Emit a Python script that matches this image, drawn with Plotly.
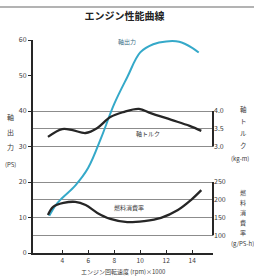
import plotly.graph_objects as go

# ---- data ----
rpm_power = [3.0, 3.5, 4.0, 5.0, 6.0, 7.0, 8.0, 9.0, 10.0, 11.0, 12.0, 13.0, 14.0, 14.5]
power_ps = [10.5, 13.5, 15.5, 19.0, 24.0, 32.5, 42.0, 49.5, 56.5, 58.8, 59.6, 59.5, 57.8, 56.5]

rpm_torque = [2.9, 4.0, 4.8, 5.8, 6.7, 7.7, 8.7, 9.9, 10.8, 12.4, 13.8, 14.7]
torque_kgm = [3.27, 3.49, 3.46, 3.38, 3.52, 3.83, 3.97, 4.06, 3.94, 3.75, 3.58, 3.44]

rpm_fuel = [2.9, 3.3, 4.1, 5.0, 5.8, 6.7, 7.7, 9.0, 10.3, 11.6, 12.9, 13.9, 14.7]
fuel_gpsh = [157, 180, 191, 194, 185, 163, 146, 137, 140, 149, 171, 199, 227]

x_ticks = [4, 6, 8, 10, 12, 14]
ps_ticks = [0, 10, 20, 30, 40, 50, 60]
torque_ticks = [3.0, 3.5, 4.0]
fuel_ticks = [100, 150, 200, 250]

FONT = "Noto Sans CJK JP"
TXT = "#3a3a3a"
DARK = "#262626"
CYAN = "#35a9c9"
GRID = "#8c8c8c"

fig = go.Figure()
fig.add_trace(go.Scatter(x=rpm_power, y=power_ps, mode="lines", line=dict(color=CYAN, width=2, shape="spline"),
                         yaxis="y", showlegend=False, hoverinfo="skip"))
fig.add_trace(go.Scatter(x=rpm_torque, y=torque_kgm, mode="lines", line=dict(color=DARK, width=2.3, shape="spline"),
                         yaxis="y2", showlegend=False, hoverinfo="skip"))
fig.add_trace(go.Scatter(x=rpm_fuel, y=fuel_gpsh, mode="lines", line=dict(color=DARK, width=2.3, shape="spline"),
                         yaxis="y3", showlegend=False, hoverinfo="skip"))

fig.update_layout(
    width=254, height=277,
    margin=dict(l=33, r=41, t=40, b=24),
    paper_bgcolor="white", plot_bgcolor="white",
    font=dict(family=FONT, color=TXT, size=7),
    title=dict(text="<b>エンジン性能曲線</b>", x=0.49, xanchor="center", y=0.94, yanchor="middle",
               font=dict(family=FONT, size=10, color="#222")),
    xaxis=dict(range=[1.75, 15.6], tickvals=x_ticks, ticktext=[str(v) for v in x_ticks],
               showgrid=False, zeroline=False, showline=True, linecolor=DARK, linewidth=2,
               ticks="inside", ticklen=3, tickcolor=DARK, tickfont=dict(size=6.5, color=TXT)),
    yaxis=dict(range=[0, 60], tickvals=ps_ticks, ticktext=[str(v) for v in ps_ticks],
               showgrid=False, zeroline=False, showline=True, linecolor=DARK, linewidth=2,
               ticks="outside", ticklen=3, tickcolor=DARK, tickfont=dict(size=7, color=TXT)),
    yaxis2=dict(range=[0, 6], overlaying="y", side="right", tickvals=torque_ticks,
                ticktext=["%.1f" % v for v in torque_ticks], showgrid=True, gridcolor=GRID, gridwidth=1,
                zeroline=False, showline=False, ticks="", tickfont=dict(size=7, color=TXT)),
    yaxis3=dict(range=[50, 650], overlaying="y", side="right", tickvals=fuel_ticks,
                ticktext=[str(v) for v in fuel_ticks], showgrid=True, gridcolor=GRID, gridwidth=1,
                zeroline=False, showline=False, ticks="", tickfont=dict(size=7, color=TXT)),
)

shapes = [
    dict(type="line", xref="paper", x0=1, x1=1, yref="y2", y0=min(torque_ticks), y1=max(torque_ticks),
         line=dict(color=DARK, width=2)),
    dict(type="line", xref="paper", x0=1, x1=1, yref="y3", y0=min(fuel_ticks), y1=max(fuel_ticks),
         line=dict(color=DARK, width=2)),
    dict(type="line", xref="paper", yref="paper", x0=-0.2, x1=1.25, y0=1.155, y1=1.155,
         line=dict(color="#9a9a9a", width=1.5)),
]
fig.update_layout(shapes=shapes)

ann = []
def a(text, x, y, xref="paper", yref="paper", size=6, color=TXT, xanchor="center", yanchor="middle"):
    ann.append(dict(text=text, x=x, y=y, xref=xref, yref=yref, showarrow=False,
                    font=dict(family=FONT, size=size, color=color), xanchor=xanchor, yanchor=yanchor))

# curve labels
a("軸出力", 9.0, 59.5, xref="x", yref="y", size=6, color="#3c6f86")
a("軸トルク", 10.6, 33.8, xref="x", yref="y", size=6)
a("燃料消費率", 9.1, 12.7, xref="x", yref="y", size=6)

# vertical titles, one character per annotation (pixel rows -> paper coords)
def py(p):
    return (253 - p) / 213.0

# x title
a("エンジン回転速度 (rpm)×1000", 0.5, py(271), size=6)

for ch, p in zip("軸出力", [117, 132, 147]):
    a(ch, -0.127, py(p), size=7)
a("(PS)", -0.127, py(164), size=6)

for ch, p in zip("軸トルク", [109, 121, 133, 145]):
    a(ch, 1.167, py(p), size=6.5)
a("(kg-m)", 1.09, py(158), size=6, xanchor="left")

for ch, p in zip("燃料消費率", [192, 202, 212, 222, 232]):
    a(ch, 1.167, py(p), size=6)
a("(g/PS-h)", 1.09, py(243), size=6, xanchor="left")

fig.update_layout(annotations=ann)

fig.write_html("out.html", config={"displayModeBar": False},
               post_script="document.body.style.margin='0';document.body.style.padding='0';"
                           "document.body.style.overflow='hidden';")
